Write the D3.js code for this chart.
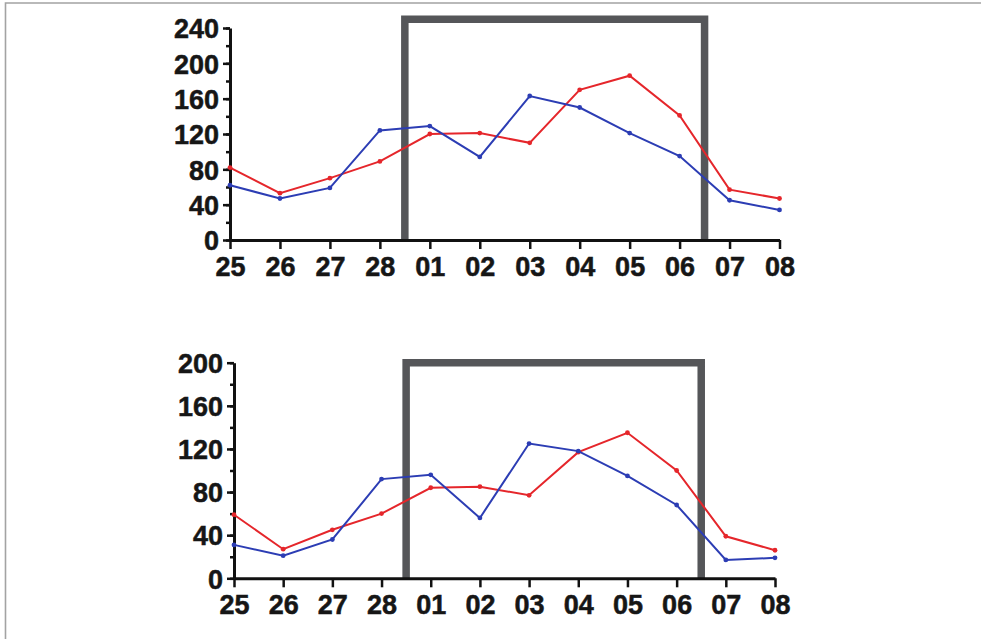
<!DOCTYPE html>
<html>
<head>
<meta charset="utf-8">
<script src="https://cdn.jsdelivr.net/npm/d3@7/dist/d3.min.js"></script>
<style>
  html, body { margin: 0; padding: 0; background: #fff; }
  svg { display: block; }
  .axis text { font-family: "Liberation Sans", Arial, sans-serif; font-weight: bold; font-size: 27px; fill: #161616; stroke: #161616; stroke-width: 0.5px; }
  .axis path, .axis line { stroke: #111; }
</style>
</head>
<body>
<script>
// Day labels along the x axis (end of one month into the next)
const days = ["25", "26", "27", "28", "01", "02", "03", "04", "05", "06", "07", "08"];

// Upper panel series
const upperRed  = [82, 53, 70, 89, 120, 121, 110, 170, 186, 141, 57, 47];
const upperBlue = [62, 47, 59, 124, 129, 94, 163, 150, 121, 95, 45, 34];
const upperTicks = [0, 40, 80, 120, 160, 200, 240];

// Lower panel series
const lowerRed  = [59, 27, 45, 60, 84, 85, 77, 117, 135, 100, 39, 26];
const lowerBlue = [31, 21, 36, 92, 96, 56, 125, 118, 95, 68, 17, 19];
const lowerTicks = [0, 40, 80, 120, 160, 200];

// Highlighted window: from between "28" and "01" to between "06" and "07"
const windowStart = "28", windowEnd = "06";

const W = 981, H = 639;
const svg = d3.select("body").append("svg").attr("width", W).attr("height", H);

// outer frame edges (top and left)
svg.append("path")
  .attr("d", `M5.5,${H} V3 H${W}`)
  .attr("fill", "none")
  .attr("stroke", "#a3a3a3")
  .attr("stroke-width", 1.6);

const RED = "#e5262b", BLUE = "#2c3db4";

function panel(cfg) {
  const x = d3.scalePoint().domain(days).range([cfg.x0, cfg.x1]);
  const y = d3.scaleLinear().domain([0, cfg.yMax]).range([cfg.yBottom, cfg.yTop]);
  const g = svg.append("g");

  // highlighted window outline (open at the bottom)
  const step = x.step();
  const bx0 = x(windowStart) + step / 2, bx1 = x(windowEnd) + step / 2;
  const by = y(cfg.boxTop);
  g.append("path")
    .attr("d", `M${bx0},${y(0)} V${by} H${bx1} V${y(0)}`)
    .attr("fill", "none")
    .attr("stroke", "#555659")
    .attr("stroke-width", 7.5)
    .attr("stroke-linejoin", "miter");

  // minor y ticks
  const minor = d3.range(0, cfg.yMax + 1, 20);
  g.append("g").attr("class", "axis")
    .attr("transform", `translate(${cfg.x0},0)`)
    .call(d3.axisLeft(y).tickValues(minor).tickSize(4).tickSizeOuter(0).tickFormat(""))
    .call(a => a.selectAll("line").attr("stroke-width", 2.5))
    .call(a => a.select(".domain").remove());

  // major y ticks with labels
  g.append("g").attr("class", "axis")
    .attr("transform", `translate(${cfg.x0},0)`)
    .call(d3.axisLeft(y).tickValues(cfg.ticks).tickSize(7).tickSizeOuter(0).tickPadding(4))
    .call(a => a.selectAll("line").attr("stroke-width", 2.5))
    .call(a => a.select(".domain").attr("stroke-width", 3))
    .call(a => a.selectAll("text").attr("dy", "0.36em"));

  // x axis
  g.append("g").attr("class", "axis")
    .attr("transform", `translate(0,${cfg.yBottom})`)
    .call(d3.axisBottom(x).tickSize(9).tickSizeOuter(0).tickPadding(8))
    .call(a => a.selectAll("line").attr("stroke-width", 2.5))
    .call(a => a.select(".domain").attr("stroke-width", 3));

  // series lines and point markers
  [[cfg.red, RED], [cfg.blue, BLUE]].forEach(([vals, color]) => {
    const pts = vals.map((v, i) => [x(days[i]), y(v)]);
    g.append("path")
      .attr("d", d3.line()(pts))
      .attr("fill", "none")
      .attr("stroke", color)
      .attr("stroke-width", 2);
    g.selectAll(null).data(pts).enter().append("circle")
      .attr("cx", d => d[0]).attr("cy", d => d[1])
      .attr("r", 2.4).attr("fill", color);
  });
}

panel({ x0: 230, x1: 779.5, yTop: 28, yBottom: 240, yMax: 240, boxTop: 250,
        ticks: upperTicks, red: upperRed, blue: upperBlue });

panel({ x0: 234, x1: 775, yTop: 362.7, yBottom: 578.3, yMax: 200, boxTop: 200,
        ticks: lowerTicks, red: lowerRed, blue: lowerBlue });
</script>
</body>
</html>
